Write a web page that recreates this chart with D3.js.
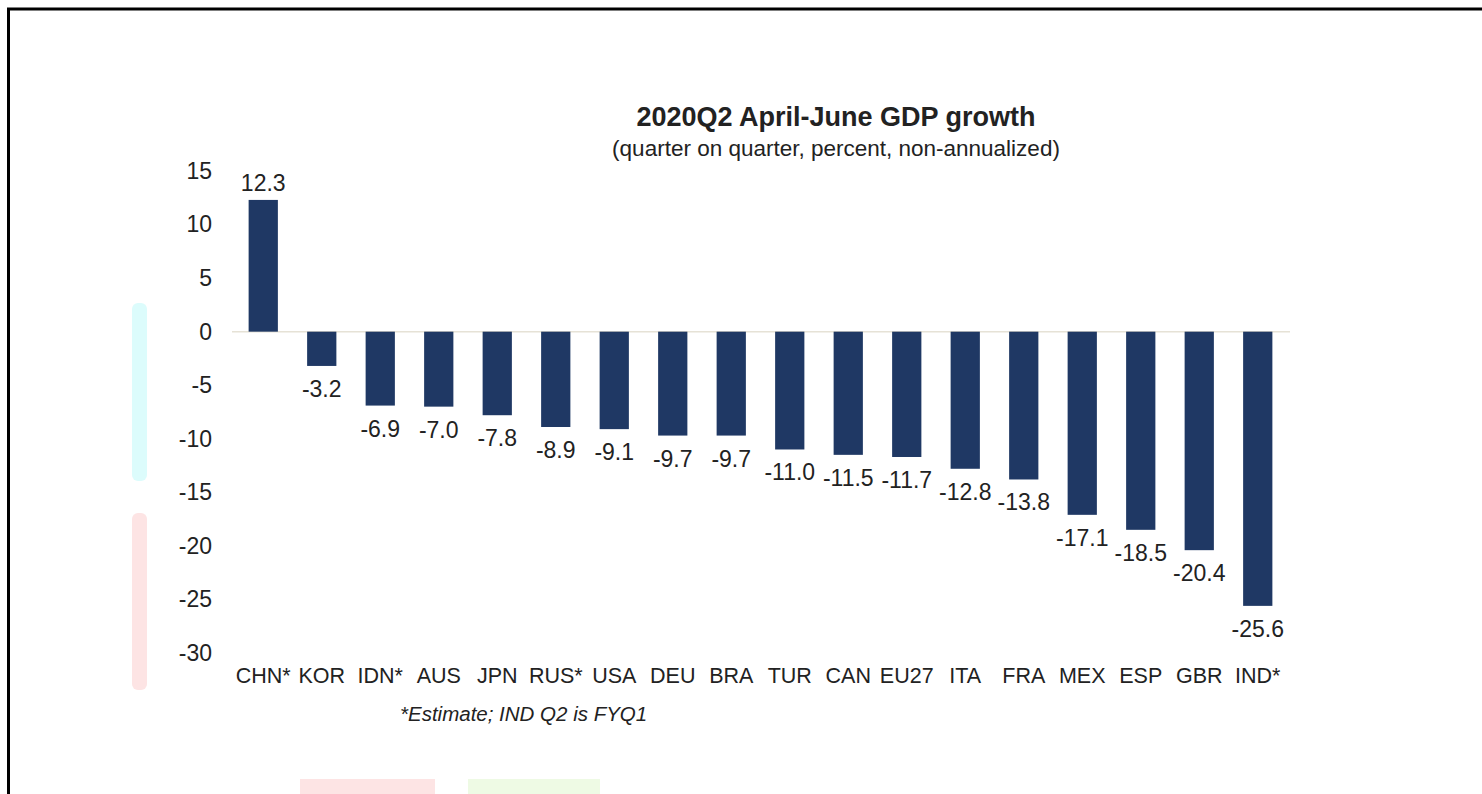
<!DOCTYPE html>
<html>
<head>
<meta charset="utf-8">
<script src="https://cdn.jsdelivr.net/npm/d3@7"></script>
<style>
  html, body { margin: 0; padding: 0; background: #fff; }
  svg { display: block; }
  text { font-family: "Liberation Sans", Arial, sans-serif; fill: #222; }
</style>
</head>
<body>
<svg id="chart" width="1482" height="794"></svg>
<script>
const categories = ["CHN*", "KOR", "IDN*", "AUS", "JPN", "RUS*", "USA", "DEU", "BRA", "TUR", "CAN", "EU27", "ITA", "FRA", "MEX", "ESP", "GBR", "IND*"];
const values = [12.3, -3.2, -6.9, -7.0, -7.8, -8.9, -9.1, -9.7, -9.7, -11.0, -11.5, -11.7, -12.8, -13.8, -17.1, -18.5, -20.4, -25.6];
const yTicks = [15, 10, 5, 0, -5, -10, -15, -20, -25, -30];
const titleText = "2020Q2 April-June GDP growth";
const subtitleText = "(quarter on quarter, percent, non-annualized)";
const footnoteText = "*Estimate; IND Q2 is FYQ1";

const svg = d3.select("#chart");

// faint background artifacts from the source image
const deco = svg.append("g");
deco.append("rect").attr("x", 132).attr("y", 303).attr("width", 15).attr("height", 178).attr("rx", 6).attr("fill", "#dcfcfc");
deco.append("rect").attr("x", 132).attr("y", 513).attr("width", 15).attr("height", 177).attr("rx", 6).attr("fill", "#fde4e4");
deco.append("rect").attr("x", 300).attr("y", 779).attr("width", 135).attr("height", 20).attr("fill", "#fde4e4");
deco.append("rect").attr("x", 468).attr("y", 779).attr("width", 132).attr("height", 20).attr("fill", "#eefae4");

// frame
svg.append("path")
  .attr("d", "M8.5,800 L8.5,9 L1490,9")
  .attr("fill", "none").attr("stroke", "#000").attr("stroke-width", 3);

const x = d3.scaleBand().domain(categories).range([234, 1287]).paddingInner(0.5).paddingOuter(0.25);
const y = d3.scaleLinear().domain([-30, 15]).range([653, 171]);

// zero line
svg.append("line")
  .attr("x1", 232).attr("x2", 1290)
  .attr("y1", y(0)).attr("y2", y(0))
  .attr("stroke", "#e6e2d6").attr("stroke-width", 1.5);

// y axis
const yAxis = svg.append("g").attr("transform", "translate(212,0)")
  .call(d3.axisLeft(y).tickValues(yTicks).tickSize(0).tickPadding(0).tickFormat(d => String(d)));
yAxis.select(".domain").remove();
yAxis.selectAll("text").style("font-size", "23px").style("font-family", "Liberation Sans, Arial, sans-serif").attr("fill", "#222");

// bars
svg.append("g").selectAll("rect").data(values).join("rect")
  .attr("x", (d, i) => x(categories[i]))
  .attr("width", x.bandwidth())
  .attr("y", d => y(Math.max(0, d)))
  .attr("height", d => Math.abs(y(d) - y(0)))
  .attr("fill", "#1f3864");

// value labels
svg.append("g").selectAll("text").data(values).join("text")
  .attr("x", (d, i) => x(categories[i]) + x.bandwidth() / 2)
  .attr("y", d => d >= 0 ? y(d) - 17 : y(d) + 23)
  .attr("text-anchor", "middle")
  .attr("dominant-baseline", "central")
  .style("font-size", "23px")
  .text(d => d.toFixed(1));

// x axis labels
const xAxis = svg.append("g").attr("transform", "translate(0,668)")
  .call(d3.axisBottom(x).tickSize(0).tickPadding(0));
xAxis.select(".domain").remove();
xAxis.selectAll("text").style("font-size", "21.5px").style("font-family", "Liberation Sans, Arial, sans-serif").attr("fill", "#222").attr("dy", "0.71em");

// title
svg.append("text").attr("x", 836).attr("y", 126).attr("text-anchor", "middle")
  .style("font-size", "27px").style("font-weight", "bold").attr("fill", "#111").text(titleText);
svg.append("text").attr("x", 836).attr("y", 156).attr("text-anchor", "middle")
  .style("font-size", "22.5px").text(subtitleText);

// footnote
svg.append("text").attr("x", 400).attr("y", 721).attr("text-anchor", "start")
  .style("font-size", "20.5px").style("font-style", "italic").text(footnoteText);
</script>
</body>
</html>
